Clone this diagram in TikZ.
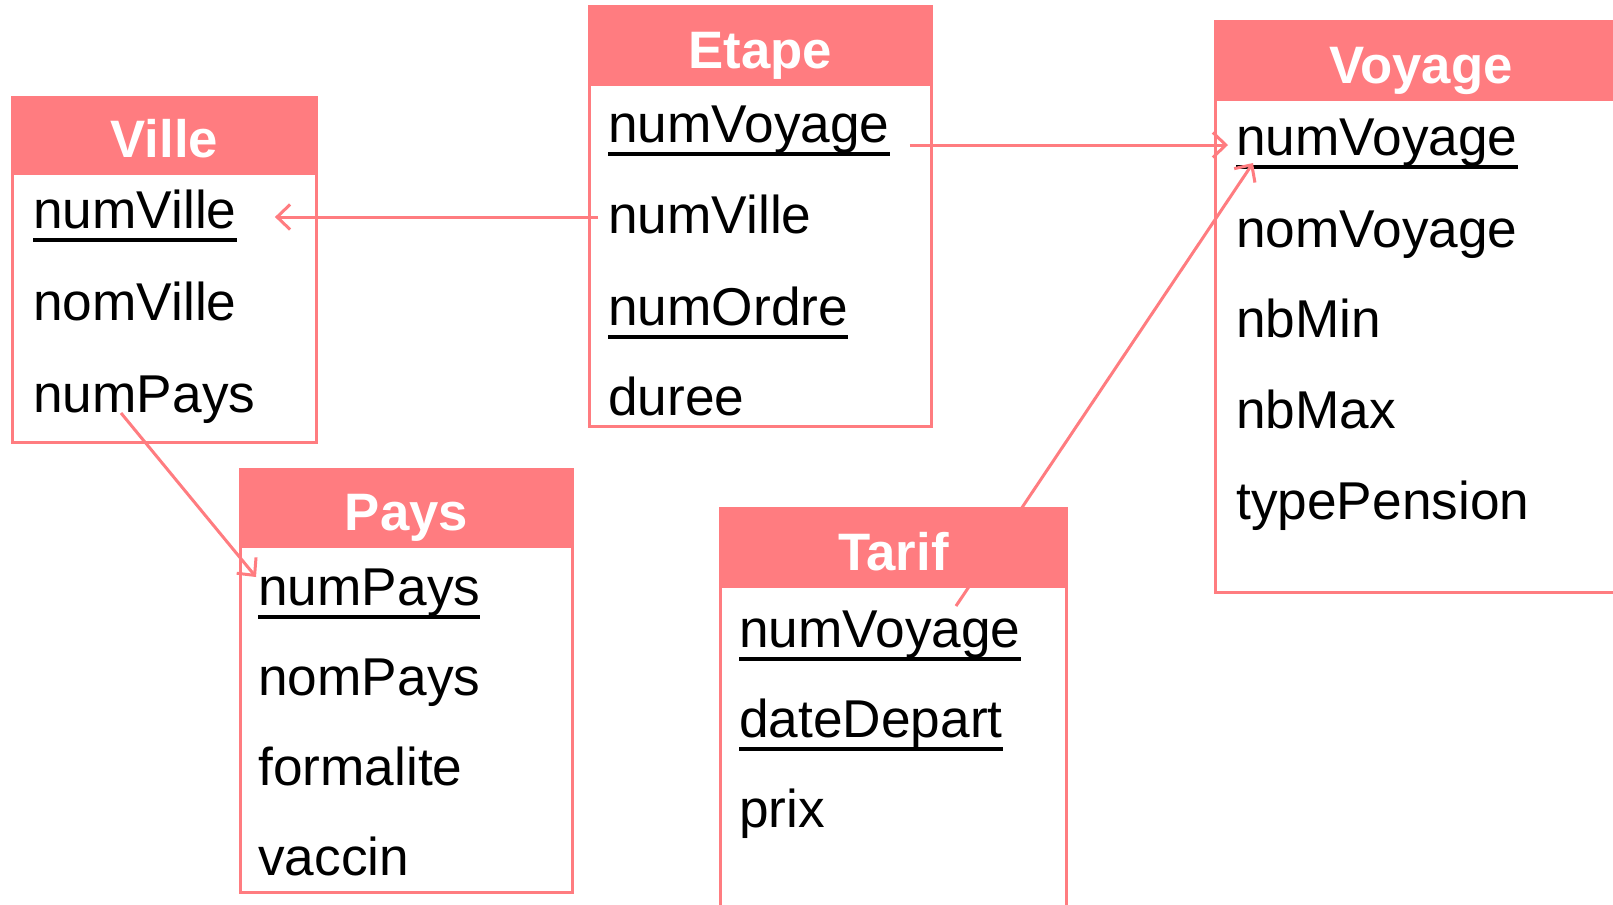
\documentclass[tikz,border=0pt]{standalone}
\usepackage{fontspec}
\setmainfont{Liberation Sans}
\usepackage{tikz}
\usetikzlibrary{positioning,arrows.meta,calc}
\definecolor{rose}{HTML}{FF7C80}
% souligne une cle primaire
\newcommand{\cle}[1]{\setbox0\hbox{#1}\rlap{\rule[-0.27cm]{\wd0}{0.065cm}}\box0}

\begin{document}
\begin{tikzpicture}[x=0.02cm,y=-0.02cm,
  corps/.style={draw=rose,fill=white,line width=0.06cm,inner sep=0pt},
  entete/.style={draw=rose,fill=rose,line width=0.06cm,inner sep=0pt,anchor=north},
  titre/.style={anchor=base,text=white,font=\fontsize{30pt}{36pt}\selectfont\bfseries,inner sep=0pt},
  attr/.style={anchor=base west,inner sep=0pt,font=\fontsize{30.3pt}{36pt}\selectfont},
  fk/.style={draw=rose,line width=0.06cm,-{Straight Barb[length=0.26cm,width=0.5cm]}}]
\useasboundingbox (0,0) rectangle (1613,904);
\clip (0,0) rectangle (1613,904);

% Ville
\node[corps,minimum width=6.1cm,minimum height=6.92cm] (ville) at (164.5,270) {};
\node[entete,minimum width=6.1cm,minimum height=1.52cm] (villeT) at (ville.north) {};
\node[titre] (villeN) at ([yshift=0.34cm]villeT.south) {Ville};
\node[attr] (vlNum) at (33,228) {\cle{numVille}};
\node[attr] (vlNom) at (33,320) {nomVille};
\node[attr] (vlPays) at (33,412) {numPays};

% Etape
\node[corps,minimum width=6.86cm,minimum height=8.42cm] (etape) at (760.5,216.5) {};
\node[entete,minimum width=6.86cm,minimum height=1.56cm] (etapeT) at (etape.north) {};
\node[titre] (etapeN) at ([yshift=0.34cm]etapeT.south) {Etape};
\node[attr] (etNV) at (608,142) {\cle{numVoyage}};
\node[attr] (etV) at (608,233) {numVille};
\node[attr] (etOrd) at (608,325) {\cle{numOrdre}};
\node[attr] (etDur) at (608,415) {duree};

% Voyage
\node[corps,minimum width=8.24cm,minimum height=11.44cm] (voyage) at (1421,307) {};
\node[entete,minimum width=8.24cm,minimum height=1.56cm] (voyageT) at (voyage.north) {};
\node[titre] (voyageN) at ([yshift=0.34cm]voyageT.south) {Voyage};
\node[attr] (voNV) at (1236,155) {\cle{numVoyage}};
\node[attr] (voNom) at (1236,247) {nomVoyage};
\node[attr] (voMin) at (1236,337) {nbMin};
\node[attr] (voMax) at (1236,428) {nbMax};
\node[attr] (voPens) at (1236,519) {typePension};

% Pays
\node[corps,minimum width=6.66cm,minimum height=8.48cm] (pays) at (406.5,681) {};
\node[entete,minimum width=6.66cm,minimum height=1.54cm] (paysT) at (pays.north) {};
\node[titre] (paysN) at ([yshift=0.34cm]paysT.south) {Pays};
\node[attr] (pyNum) at (258,605) {\cle{numPays}};
\node[attr] (pyNom) at (258,695) {nomPays};
\node[attr] (pyForm) at (258,785) {formalite};
\node[attr] (pyVac) at (258,875) {vaccin};

% Tarif
\node[corps,minimum width=6.94cm,minimum height=9.04cm] (tarif) at (893.5,734) {};
\node[entete,minimum width=6.94cm,minimum height=1.56cm] (tarifT) at (tarif.north) {};
\node[titre] (tarifN) at ([yshift=0.34cm]tarifT.south) {Tarif};
\node[attr] (tfNV) at (739,647) {\cle{numVoyage}};
\node[attr] (tfDate) at (739,737) {\cle{dateDepart}};
\node[attr] (tfPrix) at (739,827) {prix};

% cles etrangeres
\draw[fk] ($(etV.base west)+(-10,-16)$) -- ($(vlNum.base east)+(38,-11)$);
\draw[fk] ($(etNV.base east)+(20,3)$) -- ($(voNV.base west)+(-8,-10)$);
\draw[fk] ($(vlPays.base west)+(88,1)$) -- ($(pyNum.base west)+(-2,-28)$);
\draw[fk] ($(tfNV.base west)+(217,-41)$) -- ($(voNV.base west)+(17,8)$);
\end{tikzpicture}
\end{document}
